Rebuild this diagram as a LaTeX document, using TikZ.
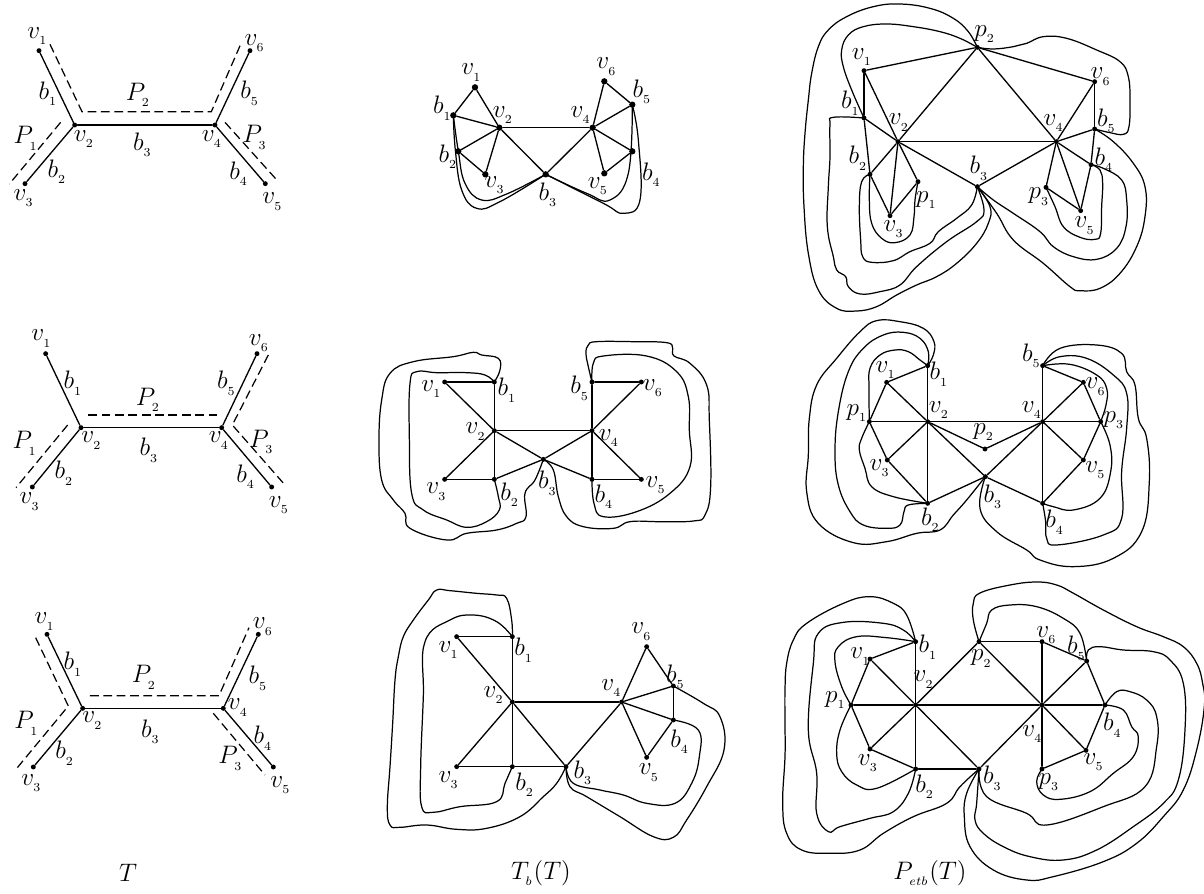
\documentclass[tikz,border=0pt]{standalone}
\usepackage{amsmath,amssymb}
\usetikzlibrary{calc}
\tikzset{
  dot/.style={circle,fill=black,inner sep=0pt,minimum size=2.8pt},
  lab/.style={font=\fontsize{13.7}{16}\selectfont,inner sep=0pt},
  grafo/.style={line width=0.75pt,line cap=round},
  ruta/.style={line width=0.7pt,dashed,dash pattern=on 5pt off 2.6pt},
  lazo/.style={line width=0.7pt,line join=round,smooth,tension=0.7},
  panel/.style n args={3}{shift={(#1,#2)},x=0.0066667cm,y=-0.0066667cm,name prefix=#3-},
}
\newcommand{\vertices}[1]{\foreach \nm/\ix/\x/\y/\lx/\ly in {#1}{
    \node[dot] (\nm\ix) at (\x,\y) {};
    \node[lab] (l\nm\ix) at (\lx,\ly) {$\nm_{_\ix}$};}}
\newcommand{\etiquetas}[1]{\foreach \nm/\ix/\lx/\ly in {#1}
    \node[lab] (l\nm\ix) at (\lx,\ly) {$\nm_{_\ix}$};}
\newcommand{\aristas}[1]{\foreach \i/\j in {#1} \draw[grafo] (\i) -- (\j);}
\begin{document}
\begin{tikzpicture}[x=0.02cm,y=-0.02cm]
  \useasboundingbox (0,0) rectangle (1204,893);
  % columna T
  \begin{scope}[panel={0}{10}{Ta}]
    \vertices{v/1/117/122/113/78,v/2/224/345/253/388,v/3/75/521/72/565,v/4/645/345/637/388,v/5/796/521/818/575,v/6/750/122/765/100}
    \etiquetas{b/1/145/252,b/2/172/485,b/3/428/405,b/4/717/492,b/5/750/250,P/1/78/385,P/2/415/255,P/3/765/382}
    \aristas{v1/v2,v2/v3,v2/v4,v4/v5,v4/v6}
    \coordinate (d1) at (150,103); \coordinate (d2) at (246,305);
    \coordinate (d3) at (634,305); \coordinate (d4) at (722,103);
    \coordinate (d5) at (182,337); \coordinate (d6) at (28,522);
    \coordinate (d7) at (675,337); \coordinate (d8) at (835,515);
    \draw[ruta] (d1) -- (d2) -- (d3) -- (d4);
    \draw[ruta] (d5) -- (d6);
    \draw[ruta] (d7) -- (d8);
  \end{scope}
  \begin{scope}[panel={0}{320}{Tb}]
    \vertices{v/1/137/101/125/55,v/2/243/323/275/362,v/3/97/501/90/545,v/4/665/323/658/362,v/5/815/501/838/555,v/6/771/101/778/70}
    \etiquetas{b/1/220/190,b/2/193/460,b/3/448/390,b/4/738/470,b/5/680/190,P/1/75/370,P/2/445/240,P/3/785/365}
    \aristas{v1/v2,v2/v3,v2/v4,v4/v5,v4/v6}
    \coordinate (d1) at (265,285); \coordinate (d2) at (655,285);
    \coordinate (d3) at (203,315); \coordinate (d4) at (48,503);
    \coordinate (d5) at (805,105); \coordinate (d6) at (697,315); \coordinate (d7) at (855,495);
    \draw[ruta] (d1) -- (d2);
    \draw[ruta] (d3) -- (d4);
    \draw[ruta] (d5) -- (d6) -- (d7);
  \end{scope}
  \begin{scope}[panel={0}{600}{Tc}]
    \vertices{v/1/141/103/135/65,v/2/248/325/278/362,v/3/100/501/95/550,v/4/670/325/715/323,v/5/820/501/842/555,v/6/775/103/790/80}
    \etiquetas{b/1/220/192,b/2/195/460,b/3/452/395,b/4/790/415,b/5/775/235,P/1/80/370,P/2/433/232,P/3/692/475}
    \aristas{v1/v2,v2/v3,v2/v4,v4/v5,v4/v6}
    \coordinate (d1) at (107,113); \coordinate (d2) at (205,318); \coordinate (d3) at (52,503);
    \coordinate (d4) at (270,287); \coordinate (d5) at (657,287); \coordinate (d6) at (747,83);
    \coordinate (d7) at (640,340); \coordinate (d8) at (795,525);
    \draw[ruta] (d1) -- (d2) -- (d3);
    \draw[ruta] (d4) -- (d5) -- (d6);
    \draw[ruta] (d7) -- (d8);
  \end{scope}
  % columna T_b(T)
  \begin{scope}[panel={420}{40}{Ba},dot/.append style={minimum size=3.6pt}]
    \vertices{v/1/165/142/155/98,b/1/100/226/68/205,v/2/238/263/250/225,b/2/115/334/85/350,v/3/196/403/225/435,b/3/377/403/385/465,v/4/518/263/483/225,v/6/553/124/560/80,b/5/637/194/667/155,b/4/637/334/695/405,v/5/553/400/535/438}
    \aristas{v1/b1,v1/v2,b1/v2,b2/v2,b2/v3,v2/v3,v2/b3,v2/v4,v4/b3,v4/v6,v4/b5,v6/b5,v4/b4,b4/v5,v4/v5}
    \draw[lazo] plot coordinates {(b1) (106,330) (125,450) (170,505) (240,485) (b3)};
    \draw[lazo] plot coordinates {(b1) (115,334) (135,430) (185,480) (260,462) (b3)};
    \draw[lazo] plot coordinates {(b3) (500,460) (570,480) (625,400) (b5)};
    \draw[lazo] plot coordinates {(b3) (550,490) (610,520) (660,480) (655,300) (b5)};
  \end{scope}
  \begin{scope}[panel={370}{320}{Bb}]
    \vertices{v/1/224/186/185/208,b/1/373/186/412/210,v/2/373/332/318/335,v/3/224/478/200/515,b/2/373/478/420/525,b/3/520/418/533/490,b/4/666/478/703/530,v/4/666/332/718/355,b/5/666/186/630/205,v/6/814/186/850/205,v/5/814/478/858/495}
    \aristas{v1/b1,v1/v2,b1/v2,v2/v3,v3/b2,v2/b2,v2/v4,v2/b3,b2/b3,b3/v4,b3/b4,v4/b4,b4/v5,v4/v5,v4/v6,b5/v4,b5/v6}
    \draw[lazo] plot coordinates {(b1) (345,165) (290,158) (200,158) (140,155) (120,190) (118,350) (125,520) (160,570) (230,600) (290,622) (350,605) (388,570) (385,530) (b2)};
    \draw[lazo] plot coordinates {(b1) (390,150) (385,115) (335,105) (310,97) (250,110) (130,125) (60,160) (35,240) (27,360) (35,480) (70,540) (105,580) (120,625) (230,660) (290,640) (380,630) (440,610) (468,590) (465,520) (495,480) (b3)};
    \draw[lazo] plot coordinates {(b5) (670,130) (700,108) (830,108) (920,155) (955,230) (958,330) (960,440) (900,520) (800,575) (700,590) (672,550) (b4)};
    \draw[lazo] plot coordinates {(b5) (655,140) (648,100) (655,75) (680,65) (790,65) (890,68) (908,85) (912,108) (960,130) (1010,195) (1018,300) (1022,500) (1005,585) (970,603) (870,605) (780,605) (730,625) (640,620) (590,590) (565,530) (550,450) (b3)};
  \end{scope}
  \begin{scope}[panel={370}{580}{Bc}]
    \vertices{v/1/260/170/237/210,b/1/427/170/462/210,v/2/427/366/372/345,v/3/260/560/237/600,b/2/427/560/465/615,b/3/588/560/640/578,v/4/755/366/725/325,v/6/830/200/815/155,b/5/910/318/917/290,b/4/910/420/930/485,v/5/830/532/838/578}
    \aristas{v1/b1,v1/v2,b1/v2,v2/v3,v3/b2,v2/b2,b2/b3,v2/b3,v2/v4,b3/v4,v4/v6,v6/b5,v4/b5,b5/b4,v4/b4,b4/v5,v4/v5}
    \draw[lazo] plot coordinates {(b1) (380,125) (310,105) (240,120) (165,185) (160,350) (152,560) (155,680) (190,697) (270,680) (380,665) (405,610) (b2)};
    \draw[lazo] plot coordinates {(b1) (425,120) (410,55) (380,45) (320,40) (240,32) (200,30) (175,60) (130,120) (100,170) (85,230) (75,300) (68,430) (60,560) (52,680) (60,735) (90,742) (170,735) (260,748) (350,745) (450,710) (520,650) (560,610) (b3)};
    \draw[lazo] plot coordinates {(b4) (985,450) (988,530) (965,610) (915,670) (830,670) (760,645) (690,630) (610,610) (b3)};
    \draw[lazo] plot coordinates {(b5) (1000,370) (1050,410) (1062,510) (1010,620) (950,720) (910,772) (850,770) (750,710) (650,650) (600,620) (b3)};
  \end{scope}
  % columna P_etb(T)
  \begin{scope}[panel={780}{0}{Pa}]
    \vertices{p/2/592/142/615/102,v/1/252/212/247/172,v/6/944/245/963/230,b/1/252/354/212/310,v/2/354/425/358/368,v/4/829/425/822/370,b/5/944/387/980/362,b/4/933/494/973/480,b/2/270/523/235/475,p/1/414/545/440/600,v/3/330/647/342/688,b/3/592/560/598/505,p/3/798/562/778/590,v/5/902/632/915/677}
    \aristas{p2/v1,p2/v2,p2/v4,p2/v6,v1/b1,v1/v2,b1/v2,b1/b2,v2/b2,v2/v3,v2/p1,v2/v4,v2/b3,v4/b3,v4/v6,v6/b5,v4/b5,b5/b4,v4/b4,v4/p3,v4/v5,b4/v5,p3/v5,b2/v3,p1/v3}
    \draw[lazo] plot coordinates {(b2) (268,600) (275,670) (305,715) (345,728) (390,705) (402,650) (405,600) (p1)};
    \draw[lazo] plot coordinates {(b2) (245,545) (238,620) (242,720) (248,770) (275,787) (340,782) (390,755) (450,730) (475,695) (530,655) (575,615) (b3)};
    \draw[lazo] plot coordinates {(b1) (160,352) (150,375) (150,470) (145,560) (142,680) (160,770) (170,810) (197,830) (205,860) (240,882) (300,875) (360,855) (410,800) (500,725) (590,665) (612,630) (b3)};
    \draw[lazo] plot coordinates {(p2) (565,95) (520,55) (450,25) (360,12) (280,20) (200,50) (145,90) (115,140) (95,220) (85,300) (75,400) (70,500) (72,620) (85,760) (115,870) (170,925) (230,933) (290,920) (350,885) (410,855) (470,830) (530,790) (590,730) (625,670) (630,620) (b3)};
    \draw[lazo] plot coordinates {(p2) (540,115) (480,95) (400,80) (320,72) (250,80) (205,105) (185,150) (190,200) (215,270) (b1)};
    \draw[lazo] plot coordinates {(p2) (640,147) (700,140) (740,130) (790,110) (860,115) (950,150) (1020,185) (1045,230) (1050,300) (1047,380) (1030,403) (990,398) (b5)};
    \draw[lazo] plot coordinates {(b4) (960,510) (968,550) (965,620) (962,700) (945,718) (900,712) (850,680) (825,620) (p3)};
    \draw[lazo] plot coordinates {(b4) (970,505) (1025,540) (1040,600) (1038,680) (1010,745) (950,778) (880,770) (820,740) (780,695) (700,640) (640,600) (b3)};
    \draw[lazo] plot coordinates {(b5) (1000,425) (1060,490) (1095,560) (1095,650) (1070,740) (1020,820) (960,865) (900,872) (870,860) (790,790) (700,720) (650,640) (b3)};
  \end{scope}
  \begin{scope}[panel={780}{315}{Pb}]
    \vertices{b/1/443/152/478/178,v/1/320/202/318/165,p/1/268/320/232/295,v/2/443/320/478/285,v/3/322/435/300/460,b/2/443/565/452/615,b/3/616/485/640/545,p/2/615/402/612/352,v/4/788/320/757/285,b/5/788/152/755/122,v/6/910/202/948/215,p/3/962/320/1003/315,v/5/910/435/947/465,b/4/788/565/825/622}
    \aristas{v1/b1,v1/p1,v1/v2,b1/v2,p1/v2,p1/v3,v3/v2,v3/b2,v2/b2,v2/p2,p2/v4,v2/v4,v2/b3,b2/b3,b3/v4,b3/b4,v4/b4,v4/v5,b4/v5,v5/p3,p3/v4,p3/v6,v6/v4,v6/b5,b5/v4}
    \draw[lazo] plot coordinates {(b1) (420,135) (385,110) (345,105) (300,120) (270,160) (267,220) (p1)};
    \draw[lazo] plot coordinates {(p1) (245,370) (238,405) (255,460) (275,515) (340,545) (b2)};
    \draw[lazo] plot coordinates {(b1) (445,110) (420,70) (370,52) (310,60) (250,100) (205,170) (175,290) (165,410) (175,510) (210,590) (250,630) (320,640) (360,630) (372,590) (385,570) (b2)};
    \draw[lazo] plot coordinates {(b1) (460,120) (462,80) (430,40) (360,20) (290,17) (240,50) (170,130) (110,210) (88,310) (85,420) (80,530) (115,625) (220,683) (320,680) (410,655) (480,645) (520,600) (560,555) (b3)};
    \draw[lazo] plot coordinates {(b5) (870,148) (950,180) (980,220) (978,270) (p3)};
    \draw[lazo] plot coordinates {(p3) (990,390) (992,470) (960,550) (880,585) (820,575) (b4)};
    \draw[lazo] plot coordinates {(b5) (840,125) (920,130) (1000,180) (1040,235) (1040,340) (1025,470) (1025,610) (970,660) (830,690) (800,670) (797,620) (b4)};
    \draw[lazo] plot coordinates {(b5) (840,100) (950,90) (1025,115) (1040,170) (1065,210) (1075,310) (1100,370) (1108,500) (1085,650) (1000,730) (880,755) (780,735) (740,705) (650,650) (600,580) (b3)};
  \end{scope}
  \begin{scope}[panel={770}{590}{Pc}]
    \vertices{b/1/437/155/475/172,v/1/300/207/272/200,p/1/243/345/197/330,v/2/437/345/462/268,v/3/300/477/295/520,b/2/437/537/465/590,b/3/627/537/668/565,p/2/627/155/635/205,v/6/816/155/830/135,b/5/950/213/920/175,v/4/816/345/788/432,b/4/1005/345/1028/405,v/5/948/481/972/517,p/3/816/537/838/577}
    \aristas{b1/v1,v1/p1,v1/v2,b1/v2,p1/v2,p1/v3,v3/v2,v3/b2,v2/b2,b2/b3,v2/b3,v2/p2,v2/v4,p2/v6,p2/v4,v6/v4,v6/b5,b5/v4,b5/b4,v4/b4,v4/v5,b4/v5,v5/p3,p3/v4,b3/v4}
    \draw[lazo] plot coordinates {(b1) (350,143) (260,140) (205,170) (195,215) (215,290) (p1)};
    \draw[lazo] plot coordinates {(p1) (210,420) (200,490) (215,545) (260,585) (320,595) (b2)};
    \draw[lazo] plot coordinates {(b1) (400,120) (340,100) (220,97) (145,130) (130,220) (115,420) (140,550) (140,670) (175,725) (210,710) (300,685) (370,665) (415,610) (b2)};
    \draw[lazo] plot coordinates {(b1) (410,75) (370,40) (300,20) (220,40) (110,100) (70,150) (50,220) (45,300) (45,400) (45,500) (38,640) (50,730) (95,780) (180,790) (270,780) (340,730) (430,680) (530,640) (570,590) (b3)};
    \draw[lazo] plot coordinates {(p2) (650,100) (665,60) (720,45) (800,50) (880,85) (930,130) (b5)};
    \draw[lazo] plot coordinates {(p2) (610,90) (610,40) (630,9) (720,-15) (801,-24) (860,-15) (909,9) (1000,60) (1100,110) (1180,140) (1240,170) (1280,220) (1298,280) (1303,350) (1280,480) (1240,600) (1180,680) (1100,760) (1000,815) (850,860) (770,870) (670,840) (600,770) (583,680) (590,610) (b3)};
    \draw[lazo] plot coordinates {(b5) (955,180) (990,170) (1060,180) (1150,185) (1200,210) (1240,280) (1245,420) (1225,570) (1180,640) (1090,710) (980,780) (880,810) (780,800) (700,770) (640,730) (615,690) (620,640) (b3)};
    \draw[lazo] plot coordinates {(b4) (1040,305) (1080,305) (1130,330) (1160,380) (1160,470) (1125,590) (1000,650) (830,705) (770,670) (650,620) (b3)};
    \draw[lazo] plot coordinates {(b4) (1060,360) (1085,410) (1105,440) (1090,500) (1030,550) (960,605) (870,628) (820,615) (800,575) (p3)};
  \end{scope}
  % titulos
  \node[lab] (tituloT) at (128,873) {$T$};
  \node[lab] (tituloB) at (541,873) {$T_{_b}(T)$};
  \node[lab] (tituloP) at (930,873) {$P_{_{etb}}(T)$};
\end{tikzpicture}
\end{document}
